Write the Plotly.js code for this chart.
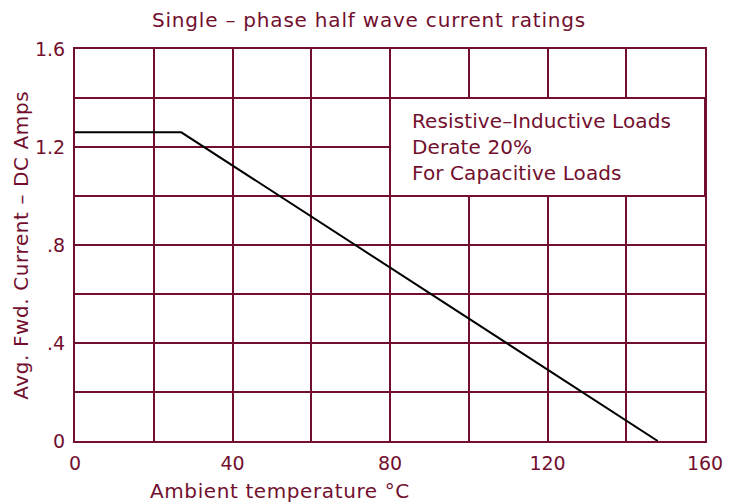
<!DOCTYPE html>
<html>
<head>
<script src="https://cdn.plot.ly/plotly-3.0.1.min.js"></script>
<style>
body{margin:0;background:#fff}#c{width:738px;height:504px}
.gtitle{letter-spacing:0.8px}
.annotation-text{letter-spacing:0.6px}
.annotation[data-index="0"] .annotation-text{letter-spacing:0.1px}
</style>
</head>
<body>
<div id="c"></div>
<script>
const temps = [0, 27, 148];
const amps = [1.26, 1.26, 0];
const xTickVals = [0, 20, 40, 60, 80, 100, 120, 140, 160];
const xTickText = ['0', '', '40', '', '80', '', '120', '', '160'];
const yTickVals = [0, 0.2, 0.4, 0.6, 0.8, 1.0, 1.2, 1.4, 1.6];
const yTickText = ['0', '', '.4', '', '.8', '', '1.2', '', '1.6'];
const noteLines = ['Resistive\u2013Inductive Loads', 'Derate 20%', 'For Capacitive Loads'];
const boxX = [80, 160];
const boxY = [1.0, 1.4];

const C = '#720f2e';
const F = 'DejaVu Sans';

const trace = {x: temps, y: amps, mode: 'lines', line: {color: '#000', width: 2}, hoverinfo: 'skip'};

const layout = {
  width: 738, height: 504,
  margin: {l: 75, r: 33, t: 49, b: 63},
  paper_bgcolor: '#fff', plot_bgcolor: '#fff',
  showlegend: false,
  font: {family: F, color: C, size: 19},
  title: {text: 'Single \u2013 phase half wave current ratings', x: 0.5, xanchor: 'center', y: 0.96, yanchor: 'middle', font: {family: F, size: 20, color: C}},
  xaxis: {range: [0, 160], tickvals: xTickVals, ticktext: xTickText, showgrid: true, gridcolor: C, gridwidth: 2,
    zeroline: false, showline: true, mirror: true, linecolor: C, linewidth: 2, ticks: '', ticklabelstandoff: 4,
    tickfont: {family: F, size: 19, color: C}, fixedrange: true},
  yaxis: {range: [0, 1.6], tickvals: yTickVals, ticktext: yTickText, showgrid: true, gridcolor: C, gridwidth: 2,
    zeroline: false, showline: true, mirror: true, linecolor: C, linewidth: 2, ticks: '', ticklabelstandoff: 4,
    tickfont: {family: F, size: 19, color: C}, fixedrange: true},
  shapes: [{type: 'rect', xref: 'x', yref: 'y', x0: boxX[0], x1: boxX[1], y0: boxY[0], y1: boxY[1],
    fillcolor: '#fff', line: {color: C, width: 2}, layer: 'above'}],
  annotations: [
    {xref: 'x', yref: 'y', x: 85, y: 1.2, xanchor: 'left', yanchor: 'middle', align: 'left', showarrow: false,
     text: noteLines.join('<br>'), font: {family: F, size: 20, color: C}},
    {xref: 'paper', yref: 'paper', x: 0.325, y: -0.127, xanchor: 'center', yanchor: 'middle', showarrow: false,
     text: 'Ambient temperature \u00b0C', font: {family: F, size: 20, color: C}},
    {xref: 'paper', yref: 'paper', x: -0.086, y: 0.5, xanchor: 'center', yanchor: 'middle', showarrow: false, textangle: -90,
     text: 'Avg. Fwd. Current \u2013 DC Amps', font: {family: F, size: 20, color: C}}
  ]
};
Plotly.newPlot('c', [trace], layout, {displayModeBar: false, staticPlot: true});
</script>
</body>
</html>
